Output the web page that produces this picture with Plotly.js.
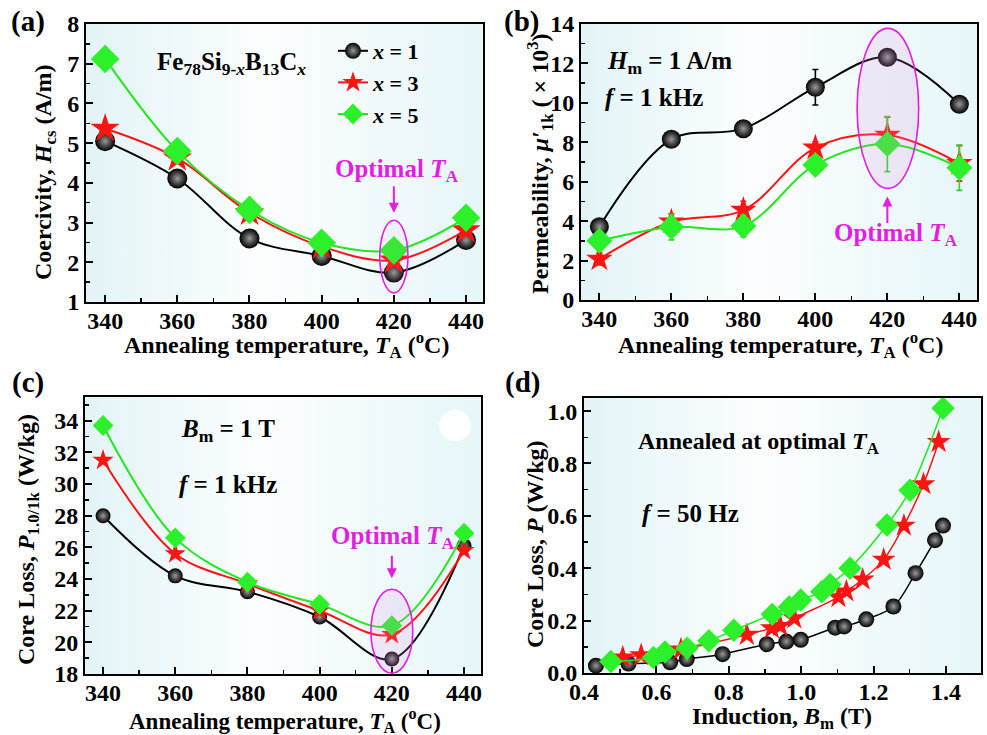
<!DOCTYPE html>
<html>
<head>
<meta charset="utf-8">
<script src="https://cdn.plot.ly/plotly-3.0.1.min.js"></script>
<style>html,body{margin:0;padding:0;background:#fff;}#chart{width:987px;height:735px;}</style>
</head>
<body>
<div id="chart"></div>
<script>
// ---------- data ----------
const seriesNames = ['<i>x</i> = 1', '<i>x</i> = 3', '<i>x</i> = 5'];
const TA = [340, 360, 380, 400, 420, 440];
// (a) coercivity Hcs (A/m)
const hc_x1 = [5.05, 4.11, 2.60, 2.16, 1.74, 2.56];
const hc_x3 = [5.37, 4.62, 3.25, 2.40, 2.05, 2.81];
const hc_x5 = [7.12, 4.80, 3.32, 2.49, 2.30, 3.12];
// (b) permeability (x10^3) with error bars
const mu_x1 = [3.72, 8.15, 8.69, 10.79, 12.31, 9.93];
const mu_x1_err = [0.2, 0.2, 0.2, 0.9, 0.3, 0.2];
const mu_x3 = [2.08, 3.97, 4.56, 7.72, 8.37, 6.93];
const mu_x3_err = [0.3, 0.4, 0.45, 0.3, 0.9, 0.9];
const mu_x5 = [3.00, 3.70, 3.75, 6.85, 7.91, 6.71];
const mu_x5_err = [0.3, 0.65, 0.55, 0.35, 1.4, 1.15];
// (c) core loss P1.0/1k (W/kg)
const pk_x1 = [28.0, 24.2, 23.2, 21.6, 18.95, 26.1];
const pk_x3 = [31.5, 25.6, 23.7, 22.0, 20.5, 25.8];
const pk_x5 = [33.7, 26.6, 23.8, 22.4, 21.05, 26.9];
// (d) core loss vs induction at 50 Hz
const bm_x1 = [0.433, 0.523, 0.638, 0.684, 0.783, 0.905, 0.959, 0.999, 1.094, 1.119, 1.180, 1.255, 1.316, 1.370, 1.392];
const p_x1  = [0.028, 0.036, 0.041, 0.053, 0.072, 0.110, 0.120, 0.127, 0.173, 0.178, 0.205, 0.254, 0.381, 0.507, 0.563];
const bm_x3 = [0.507, 0.558, 0.668, 0.850, 0.919, 0.942, 0.981, 1.103, 1.125, 1.170, 1.228, 1.284, 1.338, 1.380];
const p_x3  = [0.060, 0.068, 0.090, 0.146, 0.171, 0.180, 0.209, 0.290, 0.312, 0.357, 0.433, 0.563, 0.721, 0.882];
const bm_x5 = [0.474, 0.592, 0.624, 0.685, 0.745, 0.814, 0.920, 0.967, 0.999, 1.057, 1.080, 1.135, 1.237, 1.301, 1.392];
const p_x5  = [0.044, 0.059, 0.080, 0.095, 0.123, 0.163, 0.224, 0.252, 0.279, 0.310, 0.338, 0.400, 0.565, 0.698, 1.011];

// ---------- styles ----------
const FONT = 'Liberation Serif, Times New Roman, serif';
const BLACK = '#000000', RED = '#ff1414', GREEN = '#22e61e', MAG = '#e21ee2';
const colors = [BLACK, RED, GREEN];
const symbols = ['circle', 'star', 'diamond'];

function mk(i, size) {
  const m = {color: colors[i], symbol: symbols[i], size: size, line: {width: 0}};
  if (i === 0) m.gradient = {type: 'radial', color: '#9a9a9a'};
  if (i === 2) m.color = '#2cf02a';
  return m;
}
function tr(x, y, i, xa, ya, size, lw, extra) {
  const t = {
    x: x, y: y, xaxis: xa, yaxis: ya, type: 'scatter', mode: 'lines+markers',
    name: seriesNames[i], showlegend: false,
    line: {color: colors[i], width: lw, shape: 'spline', smoothing: 1},
    marker: mk(i, size), cliponaxis: false
  };
  return Object.assign(t, extra || {});
}
function err(arr, i) {
  return {type: 'data', array: arr, visible: true, color: colors[i] === GREEN ? '#2cd82a' : colors[i], thickness: 1.6, width: 3};
}

const traces = [
  tr(TA, hc_x1, 0, 'x', 'y', 20, 2, {showlegend: true}),
  tr(TA, hc_x3, 1, 'x', 'y', 22, 2, {showlegend: true}),
  tr(TA, hc_x5, 2, 'x', 'y', 22, 2, {showlegend: true}),
  tr(TA, mu_x1, 0, 'x2', 'y2', 19, 2, {error_y: err(mu_x1_err, 0)}),
  tr(TA, mu_x3, 1, 'x2', 'y2', 20, 2, {error_y: err(mu_x3_err, 1)}),
  tr(TA, mu_x5, 2, 'x2', 'y2', 20, 2, {error_y: err(mu_x5_err, 2)}),
  tr(TA, pk_x1, 0, 'x3', 'y3', 15, 2),
  tr(TA, pk_x3, 1, 'x3', 'y3', 16, 2),
  tr(TA, pk_x5, 2, 'x3', 'y3', 16, 2),
  tr(bm_x1, p_x1, 0, 'x4', 'y4', 16, 1.5),
  tr(bm_x3, p_x3, 1, 'x4', 'y4', 18, 1.5),
  tr(bm_x5, p_x5, 2, 'x4', 'y4', 18, 1.5)
];

const W = 987, H = 735;
function dx(a, b) { return [a / W, b / W]; }
function dy(top, bot) { return [1 - bot / H, 1 - top / H]; }
const doms = {
  a: {x: dx(86, 483), y: dy(24, 302)},
  b: {x: dx(581, 977), y: dy(24, 300)},
  c: {x: dx(85, 481), y: dy(397, 674)},
  d: {x: dx(584, 981), y: dy(398, 673)}
};

function axis(dom, range, dtick, minorDtick, anchor, isX, extra) {
  return Object.assign({
    domain: dom, range: range, dtick: dtick, tick0: 0, anchor: anchor,
    showline: true, linecolor: '#000', linewidth: 2, mirror: true,
    ticks: 'inside', ticklen: 7, tickwidth: 2, tickcolor: '#000',
    minor: {dtick: minorDtick, ticks: 'inside', ticklen: 4, tickwidth: 1.5, tickcolor: '#000'},
    showgrid: false, zeroline: false, automargin: false, fixedrange: true,
    ticklabelstandoff: isX ? -4 : 0,
    tickfont: {family: FONT, size: 24, color: '#000', weight: 'bold'}
  }, extra || {});
}

const layout = {
  width: W, height: H,
  margin: {l: 0, r: 0, t: 0, b: 0},
  paper_bgcolor: '#ffffff', plot_bgcolor: 'rgba(0,0,0,0)',
  showlegend: true,
  legend: {
    x: 333 / W, y: 1 - 30 / H, xanchor: 'left', yanchor: 'top',
    bgcolor: 'rgba(0,0,0,0)', borderwidth: 0,
    font: {family: FONT, size: 22, color: '#000', weight: 'bold'},
    itemsizing: 'trace', tracegroupgap: 0
  },
  xaxis: axis(doms.a.x, [334.7, 444.7], 20, 10, 'y', true),
  yaxis: axis(doms.a.y, [1, 8], 1, 0.5, 'x', false),
  xaxis2: axis(doms.b.x, [334.9, 444.9], 20, 10, 'y2', true),
  yaxis2: axis(doms.b.y, [0, 14], 2, 1, 'x2', false),
  xaxis3: axis(doms.c.x, [335, 444.7], 20, 10, 'y3', true),
  yaxis3: axis(doms.c.y, [18, 35.5], 2, 1, 'x3', false),
  xaxis4: axis(doms.d.x, [0.4, 1.497], 0.2, 0.1, 'y4', true, {tickformat: '.1f'}),
  yaxis4: axis(doms.d.y, [0, 1.05], 0.2, 0.1, 'x4', false, {tickformat: '.1f'}),
  images: [],
  shapes: [],
  annotations: []
};

// background gradients
const svg = "<svg xmlns='http://www.w3.org/2000/svg' width='200' height='100' viewBox='0 0 200 100' preserveAspectRatio='none'>" +
  "<defs><linearGradient id='g' x1='0' y1='0' x2='1' y2='0'>" +
  "<stop offset='0' stop-color='#e2f4f7'/><stop offset='0.45' stop-color='#fcfefe'/><stop offset='1' stop-color='#e6f6f9'/>" +
  "</linearGradient></defs><rect width='200' height='100' fill='url(#g)'/></svg>";
const bgSrc = 'data:image/svg+xml;charset=utf-8,' + encodeURIComponent(svg);
['a', 'b', 'c', 'd'].forEach(k => {
  const d = doms[k];
  layout.images.push({
    source: bgSrc, xref: 'paper', yref: 'paper',
    x: d.x[0], y: d.y[1], sizex: d.x[1] - d.x[0], sizey: d.y[1] - d.y[0],
    xanchor: 'left', yanchor: 'top', sizing: 'stretch', layer: 'below'
  });
});

// ellipses marking optimal TA
layout.shapes.push(
  {type: 'circle', xref: 'x', yref: 'y', x0: 416.1, x1: 423.9, y0: 1.23, y1: 3.06,
   line: {color: MAG, width: 1.6}, fillcolor: 'rgba(220,140,220,0.08)', layer: 'above'},
  {type: 'circle', xref: 'x2', yref: 'y2', x0: 411.6, x1: 428.7, y0: 5.66, y1: 13.78,
   line: {color: MAG, width: 1.6}, fillcolor: 'rgba(220,140,220,0.18)', layer: 'above'},
  {type: 'circle', xref: 'x3', yref: 'y3', x0: 414.2, x1: 425.8, y0: 18.05, y1: 23.35,
   line: {color: MAG, width: 1.6}, fillcolor: 'rgba(220,140,220,0.18)', layer: 'above'},
  {type: 'circle', xref: 'x3', yref: 'y3', x0: 433.1, x1: 441.9, y0: 32.7, y1: 34.7,
   line: {width: 0}, fillcolor: 'rgba(255,255,255,0.95)', layer: 'below'}
);

function txt(text, x, y, xref, yref, size, color, xanchor, extra) {
  return Object.assign({text: text, x: x, y: y, xref: xref, yref: yref, showarrow: false,
    xanchor: xanchor || 'center', yanchor: 'middle',
    font: {family: FONT, size: size, color: color || '#000', weight: 'bold'}}, extra || {});
}
function ptxt(text, px, py, size, angle) {
  return txt(text, px / W, 1 - py / H, 'paper', 'paper', size, '#000', 'center', angle ? {textangle: angle} : {});
}
function arrow(x, y, xref, yref, ay) {
  return {text: '', x: x, y: y, xref: xref, yref: yref, showarrow: true, ax: 0, ay: ay,
    arrowcolor: MAG, arrowwidth: 2, arrowhead: 2, arrowsize: 1};
}
const optTA = 'Optimal <i>T</i><sub>A</sub>';
const xT = 'Annealing temperature, <i>T</i><sub>A</sub> (<sup>o</sup>C)';
layout.annotations.push(
  ptxt('(a)', 28, 21, 29),
  ptxt('(b)', 521, 21, 29),
  ptxt('(c)', 28, 383, 29),
  ptxt('(d)', 522, 383, 29),
  // axis titles
  ptxt(xT, 286, 345, 24),
  ptxt('Coercivity, <i>H</i><sub>cs</sub> (A/m)', 45, 172, 24, -90),
  ptxt(xT, 780, 345, 24),
  ptxt('Permeability, <i>\u03bc\u2032</i><sub>1k</sub> ( \u00d7 10<sup>3</sup>)', 540, 164, 24, -90),
  ptxt(xT, 285, 720, 23),
  ptxt('Core Loss, <i>P</i><sub>1.0/1k</sub> (W/kg)', 28, 540, 24, -90),
  ptxt('Induction, <i>B</i><sub>m</sub> (T)', 782, 718, 24),
  ptxt('Core Loss, <i>P</i> (W/kg)', 535, 544, 24, -90),
  // panel a
  txt('Fe<sub>78</sub>Si<sub>9-<i>x</i></sub>B<sub>13</sub>C<sub><i>x</i></sub>', 374.9, 7.0, 'x', 'y', 25),
  txt(optTA, 420.6, 4.3, 'x', 'y', 25, MAG),
  arrow(420, 3.25, 'x', 'y', -28),
  // panel b
  txt('<i>H</i><sub>m</sub> = 1 A/m', 341.5, 12.05, 'x2', 'y2', 25, '#000', 'left'),
  txt('<i>f</i> = 1 kHz', 341.0, 10.25, 'x2', 'y2', 25, '#000', 'left'),
  txt(optTA, 422.2, 3.3, 'x2', 'y2', 25, MAG),
  arrow(420, 5.25, 'x2', 'y2', 28),
  // panel c
  txt('<i>B</i><sub>m</sub> = 1 T', 361.0, 33.4, 'x3', 'y3', 25, '#000', 'left'),
  txt('<i>f</i> = 1 kHz', 360.5, 30.0, 'x3', 'y3', 25, '#000', 'left'),
  txt(optTA, 420.3, 26.65, 'x3', 'y3', 25, MAG),
  arrow(420, 24.05, 'x3', 'y3', -24),
  // panel d
  txt('Annealed at optimal <i>T</i><sub>A</sub>', 0.881, 0.88, 'x4', 'y4', 24),
  txt('<i>f</i> = 50 Hz', 0.555, 0.61, 'x4', 'y4', 25, '#000', 'left')
);

Plotly.newPlot('chart', traces, layout, {displayModeBar: false, staticPlot: true});
</script>
</body>
</html>
